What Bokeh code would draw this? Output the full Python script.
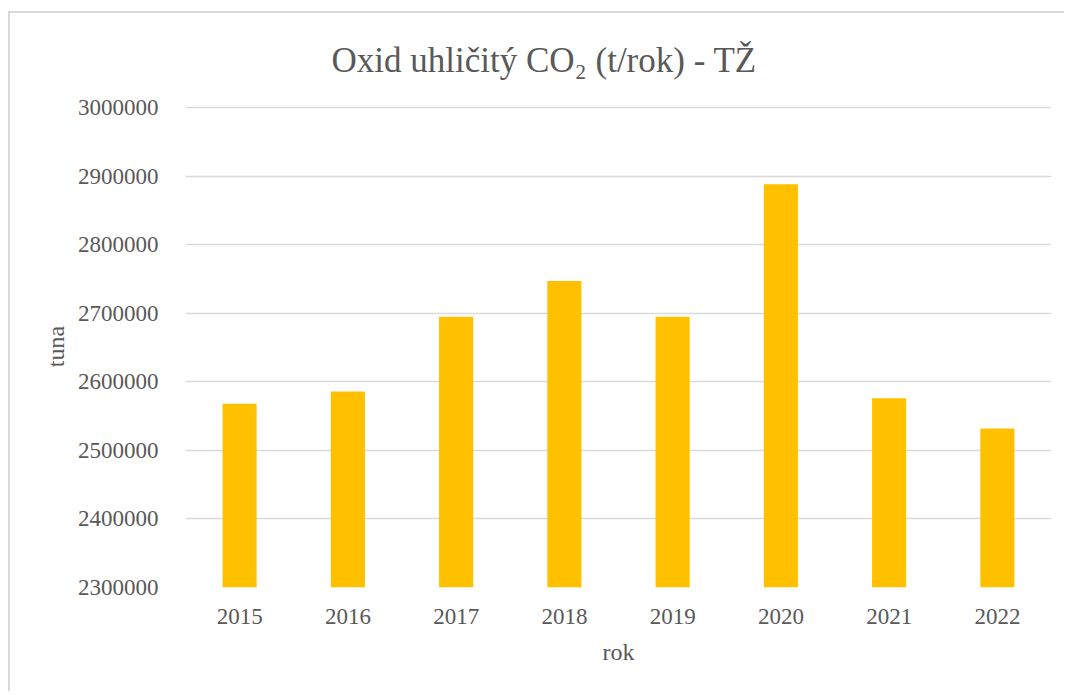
from bokeh.plotting import figure
from bokeh.models import ColumnDataSource, FactorRange, Range1d, FixedTicker, BasicTickFormatter
from bokeh.embed import file_html
from bokeh.resources import INLINE

# ---- data ----
years = ["2015", "2016", "2017", "2018", "2019", "2020", "2021", "2022"]
co2 = [2568000, 2586000, 2695000, 2747000, 2695000, 2888000, 2576000, 2532000]
y_ticks = [2300000, 2400000, 2500000, 2600000, 2700000, 2800000, 2900000, 3000000]
title_text = "Oxid uhličitý CO₂ (t/rok) - TŽ"
x_label = "rok"
y_label = "tuna"

FONT = "Liberation Serif"
TXT = "#595959"

source = ColumnDataSource(dict(year=years, co2=co2))

p = figure(
    x_range=FactorRange(factors=years, range_padding=0),
    y_range=Range1d(y_ticks[0], y_ticks[-1] + 3000),
    width=1056, height=680,
    output_backend="svg", toolbar_location=None,
    min_border_left=175, min_border_right=15,
    min_border_top=92, min_border_bottom=106,
)
p.styles = {"margin-top": "11px", "margin-left": "8px",
            "border-top": "2px solid #d9d9d9",
            "border-left": "2px solid #d9d9d9"}
p.outline_line_color = None
p.background_fill_color = "white"
p.border_fill_color = "white"

p.title.text = title_text
p.title.align = "left"
p.title.offset = 146
p.title.standoff = 51
p.title.text_line_height = 1.0
p.title.text_font = FONT
p.title.text_font_size = "35px"
p.title.text_font_style = "normal"
p.title.text_color = TXT

p.vbar(x="year", top="co2", bottom=y_ticks[0], width=0.315, source=source,
       fill_color="#FFC000", line_color=None)

# grid
p.xgrid.grid_line_color = None
p.ygrid.grid_line_color = "#d9d9d9"
p.ygrid.grid_line_width = 1.5
p.yaxis.ticker = FixedTicker(ticks=y_ticks)
p.yaxis.formatter = BasicTickFormatter(use_scientific=False)

for ax in (p.xaxis[0], p.yaxis[0]):
    ax.axis_line_color = None
    ax.major_tick_line_color = None
    ax.minor_tick_line_color = None
    ax.major_label_text_font = FONT
    ax.major_label_text_color = TXT
    ax.major_label_text_font_size = "23px"
    ax.axis_label_text_font = FONT
    ax.axis_label_text_color = TXT
    ax.axis_label_text_font_size = "24px"
    ax.axis_label_text_font_style = "normal"

p.xaxis.axis_label = x_label
p.yaxis.axis_label = y_label
p.xaxis.major_label_standoff = 15
p.xaxis.axis_label_standoff = 12
p.yaxis.major_label_standoff = 21
p.yaxis.axis_label_standoff = 6

open("out.html", "w").write(file_html(p, INLINE))
